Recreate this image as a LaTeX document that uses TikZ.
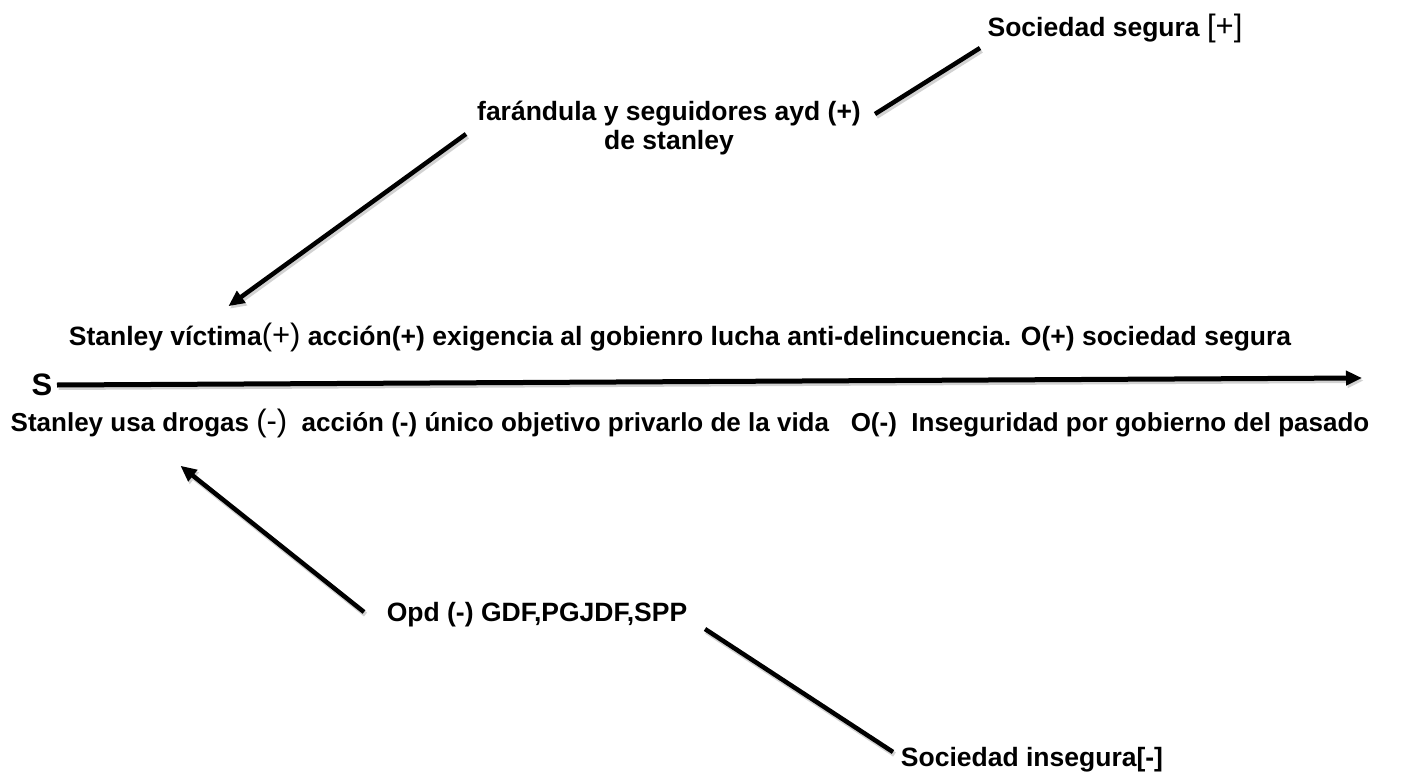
\documentclass[tikz,border=0pt]{standalone}
\usepackage{fontspec}
\setmainfont{Liberation Sans}
\usetikzlibrary{arrows.meta}
\begin{document}
\begin{tikzpicture}[x=1pt,y=-1pt,
  lbl/.style={font=\bfseries\fontsize{26.5}{29}\selectfont, inner sep=0pt, align=center},
  conn/.style={line width=4.5pt, black,
    preaction={draw, gray!35, line width=5pt, transform canvas={shift={(1.5pt,-2.5pt)}}}},
  tip/.style={-{Triangle[length=16pt,width=14pt]}, shorten >=-2pt}
]
\useasboundingbox (0,0) rectangle (1427,776);
\newcommand{\rp}[1]{{\mdseries\fontsize{31}{29}\selectfont #1}}
\node[lbl] (ss) at (1115,28) {Sociedad segura \rp{[+]}};
\node[lbl] (far) at (669,128) {farándula y seguidores ayd (+)\\de stanley};
\node[lbl] (top) at (680,337) {Stanley víctima\rp{(+)} acción(+) exigencia al gobienro lucha anti-delincuencia. O(+) sociedad segura};
\node[lbl, font=\bfseries\fontsize{31}{31}\selectfont] (S) at (42,385) {S};
\node[lbl, font=\bfseries\fontsize{26}{29}\selectfont] (bot) at (690,423) {Stanley usa drogas \rp{(-)}\ \ acción (-) único objetivo privarlo de la vida\ \ \ O(-)\ \ Inseguridad por gobierno del pasado};
\node[lbl] (opd) at (537,615) {Opd (-) GDF,PGJDF,SPP};
\node[lbl] (si) at (1032,760) {Sociedad insegura[-]};
\coordinate (a1) at (980,48);
\coordinate (a2) at (875,114);
\coordinate (b1) at (466,134);
\coordinate (b2) at (230,305);
\coordinate (c1) at (57,385);
\coordinate (c2) at (1360,378);
\coordinate (d1) at (364,612);
\coordinate (d2) at (182,467);
\coordinate (e1) at (705,629);
\coordinate (e2) at (893,752);
\draw[conn] (a1) -- (a2);
\draw[conn,tip] (b1) -- (b2);
\draw[conn,tip,line width=5pt] (c1) -- (c2);
\draw[conn,tip] (d1) -- (d2);
\draw[conn] (e1) -- (e2);
\end{tikzpicture}
\end{document}
